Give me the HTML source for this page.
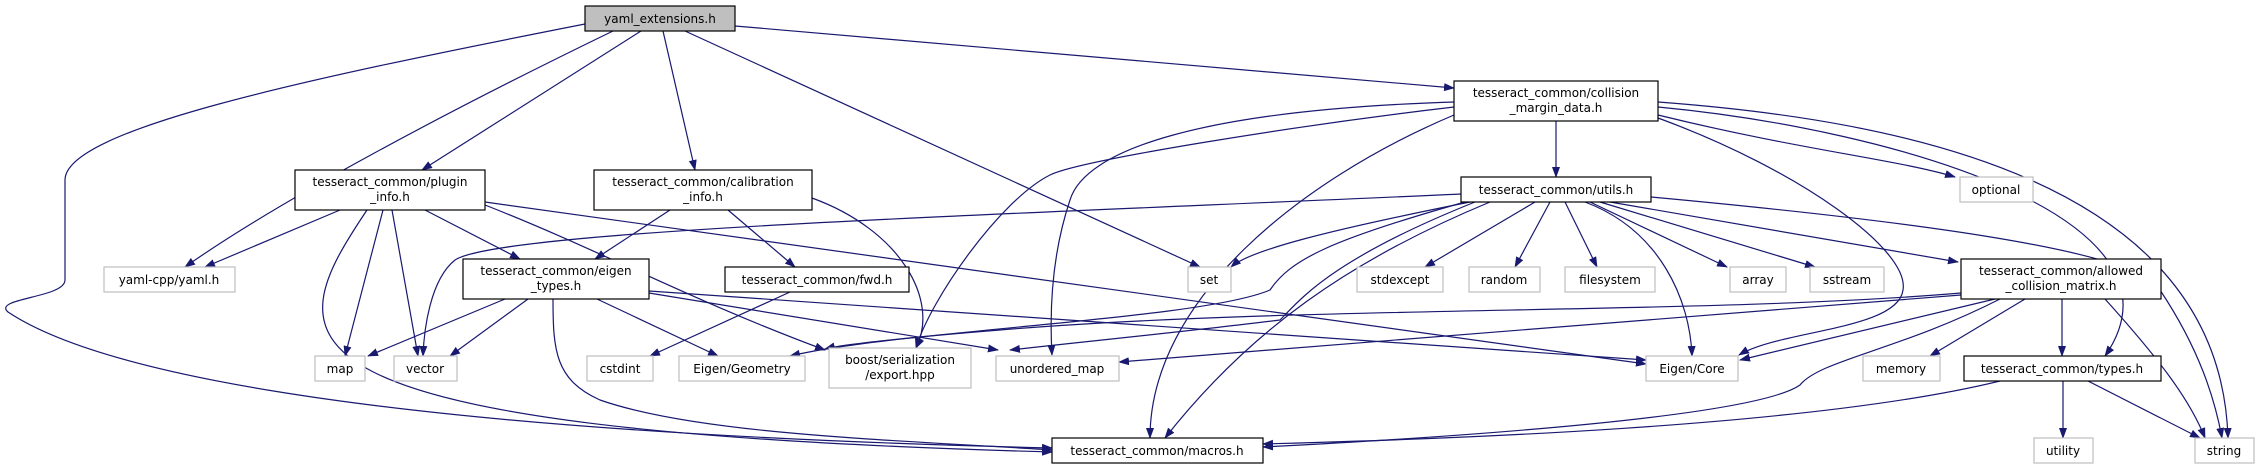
<!DOCTYPE html>
<html><head><meta charset="utf-8"><style>
html,body{margin:0;padding:0;background:#fff;}
svg{display:block;}
text{font-family:"DejaVu Sans","Liberation Sans",sans-serif;font-size:12px;fill:#000;}
.e{fill:none;stroke:#191970;stroke-width:1.2;marker-end:url(#a);}
.n{fill:#fff;stroke:#000;stroke-width:1.2;}
.x{fill:#fff;stroke:#bfbfbf;stroke-width:1.2;}
</style></head><body>
<svg width="2259" height="469" viewBox="0 0 2259 469" xmlns="http://www.w3.org/2000/svg">
<defs><marker id="a" markerWidth="11" markerHeight="8" refX="10" refY="4" orient="auto" markerUnits="userSpaceOnUse"><path d="M0,0 L11,4 L0,8 z" fill="#191970"/></marker></defs>
<g>
<!-- yaml_extensions edges -->
<path class="e" d="M585,24 C300,80 65,130 65,180 L65,280 C65,298 -8,298 8,312 C80,360 300,430 1052,448"/>
<path class="e" d="M613,31 C450,110 280,200 185,267"/>
<path class="e" d="M641,31 L422,170"/>
<path class="e" d="M663,31 L695,170"/>
<path class="e" d="M685,31 L1200,267"/>
<path class="e" d="M735,26 L1454,88"/>
<!-- plugin_info -->
<path class="e" d="M340,210 L205,267"/>
<path class="e" d="M383,210 L345,356"/>
<path class="e" d="M392,210 L418,356"/>
<path class="e" d="M425,210 L520,259"/>
<path class="e" d="M485,205 C600,250 690,300 825,350"/>
<path class="e" d="M485,202 L1646,364"/>
<path class="e" d="M367,210 C280,340 240,430 1052,452"/>
<!-- calibration -->
<path class="e" d="M670,210 L595,259"/>
<path class="e" d="M728,210 L795,267"/>
<path class="e" d="M812,198 C900,230 940,300 916,348"/>
<!-- eigen_types -->
<path class="e" d="M505,299 L368,356"/>
<path class="e" d="M528,299 L450,356"/>
<path class="e" d="M553,299 C553,350 555,380 600,400 C700,435 900,440 1052,450"/>
<path class="e" d="M597,299 L718,356"/>
<path class="e" d="M649,293 L998,350"/>
<path class="e" d="M649,291 L1646,360"/>
<!-- fwd -->
<path class="e" d="M790,292 L650,356"/>
<!-- collision margin -->
<path class="e" d="M1556,121 L1556,177"/>
<path class="e" d="M1454,102 C1200,110 1085,150 1070,200 C1050,260 1050,320 1052,355"/>
<path class="e" d="M1454,107 C1300,125 1080,160 1050,175 C1000,200 930,300 916,348"/>
<path class="e" d="M1454,115 C1300,180 1150,300 1150,438"/>
<path class="e" d="M1658,118 C1800,170 1910,250 1903,290 C1898,330 1780,330 1739,355"/>
<path class="e" d="M1658,115 C1800,150 1900,160 1955,177"/>
<path class="e" d="M1658,107 C1900,130 2200,220 2105,356"/>
<path class="e" d="M1658,102 C1900,120 2220,180 2228,438"/>
<!-- utils -->
<path class="e" d="M1461,194 C1000,215 500,230 455,260 C430,280 424,330 423,356"/>
<path class="e" d="M1470,202 C1330,230 1250,250 1231,267"/>
<path class="e" d="M1535,202 L1425,267"/>
<path class="e" d="M1550,202 L1515,267"/>
<path class="e" d="M1565,202 L1597,267"/>
<path class="e" d="M1590,202 L1727,267"/>
<path class="e" d="M1600,202 L1815,267"/>
<path class="e" d="M1610,202 L1958,262"/>
<path class="e" d="M1585,202 C1660,230 1690,300 1692,356"/>
<path class="e" d="M1651,197 C1900,220 2140,250 2160,290 C2200,350 2215,400 2222,438"/>
<path class="e" d="M1465,202 C1330,240 1290,260 1270,290 C1200,320 900,330 790,356"/>
<path class="e" d="M1475,202 C1330,260 1300,300 1280,320 C1200,330 1100,340 1010,350"/>
<path class="e" d="M1490,202 C1350,260 1250,330 1165,438"/>
<!-- allowed -->
<path class="e" d="M1961,293 C1700,315 1300,305 1000,330 C900,338 840,345 825,349"/>
<path class="e" d="M1961,295 L1119,362"/>
<path class="e" d="M1995,299 L1740,360"/>
<path class="e" d="M2000,299 C1900,350 1820,360 1800,385 C1750,420 1400,440 1263,447"/>
<path class="e" d="M2025,299 L1930,356"/>
<path class="e" d="M2062,299 L2062,356"/>
<path class="e" d="M2105,299 C2160,360 2190,400 2205,438"/>
<!-- types -->
<path class="e" d="M2000,381 C1800,430 1400,440 1263,444"/>
<path class="e" d="M2063,381 L2063,438"/>
<path class="e" d="M2088,381 L2200,438"/>
</g>
<!-- nodes -->
<rect x="585" y="6" width="150" height="25" fill="#bfbfbf" stroke="#000" stroke-width="1.2"/>
<text x="660" y="23" text-anchor="middle">yaml_extensions.h</text>

<rect class="n" x="295" y="170" width="190" height="40"/>
<text x="390" y="186" text-anchor="middle">tesseract_common/plugin</text>
<text x="390" y="201" text-anchor="middle">_info.h</text>

<rect class="n" x="594" y="170" width="218" height="40"/>
<text x="703" y="186" text-anchor="middle">tesseract_common/calibration</text>
<text x="703" y="201" text-anchor="middle">_info.h</text>

<rect class="n" x="1454" y="81" width="204" height="40"/>
<text x="1556" y="97" text-anchor="middle">tesseract_common/collision</text>
<text x="1556" y="112" text-anchor="middle">_margin_data.h</text>

<rect class="n" x="1461" y="177" width="190" height="25"/>
<text x="1556" y="194" text-anchor="middle">tesseract_common/utils.h</text>

<rect class="x" x="1960" y="177" width="73" height="25"/>
<text x="1996" y="194" text-anchor="middle">optional</text>

<rect class="x" x="104" y="267" width="131" height="25"/>
<text x="169" y="284" text-anchor="middle">yaml-cpp/yaml.h</text>

<rect class="n" x="463" y="259" width="186" height="40"/>
<text x="556" y="275" text-anchor="middle">tesseract_common/eigen</text>
<text x="556" y="290" text-anchor="middle">_types.h</text>

<rect class="n" x="725" y="267" width="184" height="25"/>
<text x="817" y="284" text-anchor="middle">tesseract_common/fwd.h</text>

<rect class="x" x="1188" y="267" width="43" height="25"/>
<text x="1209" y="284" text-anchor="middle">set</text>
<rect class="x" x="1357" y="267" width="86" height="25"/>
<text x="1400" y="284" text-anchor="middle">stdexcept</text>
<rect class="x" x="1469" y="267" width="71" height="25"/>
<text x="1504" y="284" text-anchor="middle">random</text>
<rect class="x" x="1565" y="267" width="90" height="25"/>
<text x="1610" y="284" text-anchor="middle">filesystem</text>
<rect class="x" x="1730" y="267" width="56" height="25"/>
<text x="1758" y="284" text-anchor="middle">array</text>
<rect class="x" x="1810" y="267" width="74" height="25"/>
<text x="1847" y="284" text-anchor="middle">sstream</text>

<rect class="n" x="1961" y="259" width="200" height="40"/>
<text x="2061" y="275" text-anchor="middle">tesseract_common/allowed</text>
<text x="2061" y="290" text-anchor="middle">_collision_matrix.h</text>

<rect class="x" x="315" y="356" width="50" height="25"/>
<text x="340" y="373" text-anchor="middle">map</text>
<rect class="x" x="394" y="356" width="63" height="25"/>
<text x="425" y="373" text-anchor="middle">vector</text>
<rect class="x" x="587" y="356" width="66" height="25"/>
<text x="620" y="373" text-anchor="middle">cstdint</text>
<rect class="x" x="679" y="356" width="126" height="25"/>
<text x="742" y="373" text-anchor="middle">Eigen/Geometry</text>
<rect class="x" x="829" y="348" width="142" height="40"/>
<text x="900" y="364" text-anchor="middle">boost/serialization</text>
<text x="900" y="379" text-anchor="middle">/export.hpp</text>
<rect class="x" x="996" y="356" width="123" height="25"/>
<text x="1057" y="373" text-anchor="middle">unordered_map</text>
<rect class="x" x="1646" y="356" width="92" height="25"/>
<text x="1692" y="373" text-anchor="middle">Eigen/Core</text>
<rect class="x" x="1863" y="356" width="77" height="25"/>
<text x="1901" y="373" text-anchor="middle">memory</text>
<rect class="n" x="1964" y="356" width="197" height="25"/>
<text x="2062" y="373" text-anchor="middle">tesseract_common/types.h</text>

<rect class="n" x="1052" y="438" width="211" height="25"/>
<text x="1157" y="455" text-anchor="middle">tesseract_common/macros.h</text>
<rect class="x" x="2034" y="438" width="59" height="25"/>
<text x="2063" y="455" text-anchor="middle">utility</text>
<rect class="x" x="2195" y="438" width="59" height="25"/>
<text x="2224" y="455" text-anchor="middle">string</text>
</svg>
</body></html>
